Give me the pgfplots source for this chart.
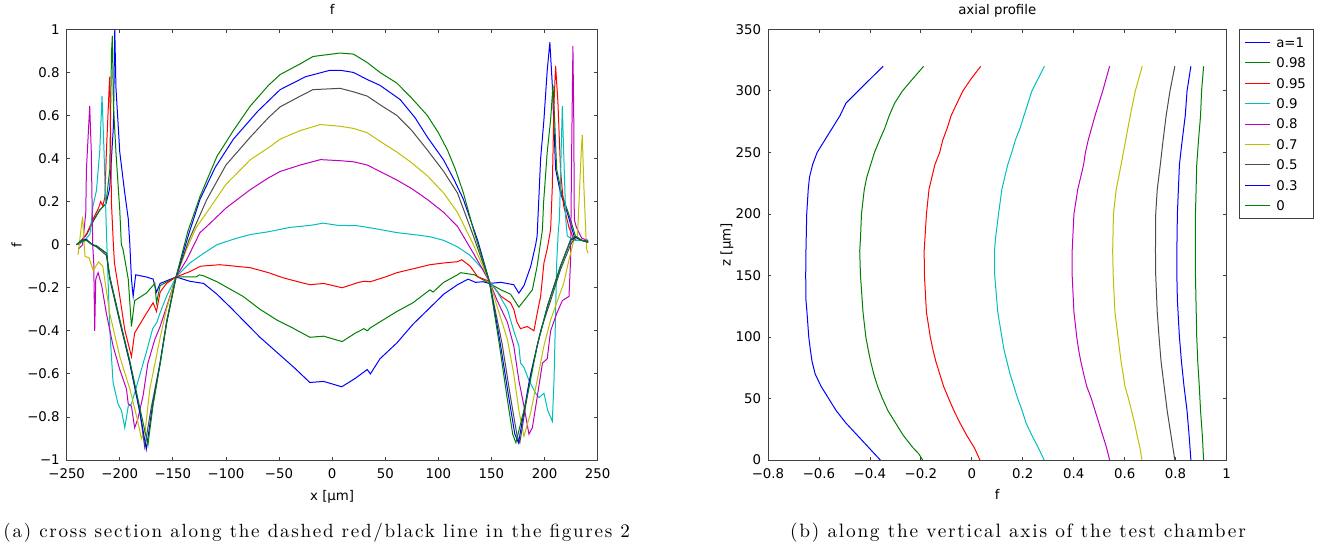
\documentclass[border=0pt]{standalone}
\usepackage{fontspec}
\usepackage{pgfplots}
\pgfplotsset{compat=1.18}
\newfontfamily\dv{DejaVu Sans}
\newfontfamily\capfont[LetterSpace=9]{lmroman10-regular.otf}
\newcommand\tf{\dv\fontsize{10}{12}\selectfont}
\definecolor{ocblue}{rgb}{0,0,1}
\definecolor{ocgreen}{rgb}{0,0.5,0}
\definecolor{ocred}{rgb}{1,0,0}
\definecolor{occyan}{rgb}{0,0.75,0.75}
\definecolor{ocmagenta}{rgb}{0.75,0,0.75}
\definecolor{ocyellow}{rgb}{0.75,0.75,0}
\definecolor{ocgray}{rgb}{0.3,0.3,0.3}
\pgfplotsset{
  every axis/.append style={
    scale only axis,
    axis line style={black!75, line width=0.6pt},
    tick style={black!75, line width=0.6pt},
    major tick length=2.5pt,
    tick align=inside,
    ticklabel style={font=\tf, text=black},
    xticklabel style={yshift=-2.7pt},
    yticklabel style={xshift=-1.7pt},
    label style={font=\tf},
    title style={font=\tf, at={(axis description cs:0.5,1)}, anchor=base, yshift=5.5pt},
    every axis plot/.append style={line width=0.75pt, mark=none},
  }
}
\begin{document}
\begin{tikzpicture}
\path[use as bounding box] (0,0) rectangle (990pt,-410.25pt);
% ---------------- left: cross section ----------------
\begin{axis}[
  at={(50pt,-22pt)}, anchor=north west,
  width=398.25pt, height=323pt,
  xmin=-250, xmax=250, ymin=-1, ymax=1,
  xtick={-250,-200,-150,-100,-50,0,50,100,150,200,250},
  xticklabels={−250,−200,−150,−100,−50,0,50,100,150,200,250},
  ytick={-1,-0.8,-0.6,-0.4,-0.2,0,0.2,0.4,0.6,0.8,1},
  yticklabels={−1,−0.8,−0.6,−0.4,−0.2,0,0.2,0.4,0.6,0.8,1},
  title={f},
  xlabel={x [μm]}, ylabel={f},
  xlabel style={at={(axis description cs:0.5,-0.0859)}, anchor=center},
  ylabel style={at={(axis description cs:-0.0942,0.5)}, anchor=center},
]
\addplot[color=ocblue] coordinates {(-239,0.0) (-231,0.05) (-225,0.11) (-219,0.16) (-213,0.19) (-209.5,0.26) (-206,0.55) (-204.7,1.0) (-203.6,0.73) (-200,0.43) (-195.3,0.24) (-192,0.12) (-190.5,0.0) (-189,-0.16) (-187.4,-0.24) (-185,-0.14) (-175,-0.15) (-168.6,-0.16) (-165.4,-0.22) (-162,-0.18) (-147,-0.15) (-134,-0.17) (-121,-0.18) (-108.5,-0.23) (-96,-0.29) (-84,-0.35) (-68,-0.43) (-52,-0.50) (-36,-0.57) (-21,-0.64) (-8,-0.635) (9,-0.66) (22,-0.62) (33,-0.58) (36,-0.60) (45,-0.53) (61,-0.456) (76,-0.37) (92,-0.293) (105,-0.23) (118,-0.186) (128,-0.16) (135,-0.175) (142,-0.172) (148,-0.18) (159,-0.175) (171,-0.186) (175.8,-0.225) (180.6,-0.19) (187,-0.10) (191.6,0.0) (193,0.04) (196.3,0.40) (199.4,0.58) (202.5,0.81) (205,0.94) (207.3,0.74) (210.4,0.35) (215,0.24) (221.4,0.148) (226,0.07) (229,0.02) (235,0.02) (241,0.015)};
\addplot[color=ocgreen] coordinates {(-239,0.0) (-231,0.05) (-225,0.11) (-219,0.16) (-213,0.19) (-209.4,0.35) (-207.8,0.89) (-207,0.97) (-206,0.65) (-203.6,0.43) (-200,0.16) (-198.5,0.0) (-197,-0.02) (-192,-0.16) (-189,-0.38) (-186,-0.26) (-175,-0.225) (-167,-0.18) (-165.4,-0.27) (-162,-0.19) (-147,-0.15) (-134,-0.149) (-128,-0.15) (-125,-0.14) (-121,-0.145) (-108.5,-0.172) (-84,-0.24) (-68,-0.30) (-52,-0.35) (-36,-0.39) (-21,-0.43) (-8,-0.425) (9.4,-0.45) (22,-0.41) (30,-0.39) (33,-0.40) (36,-0.386) (61,-0.31) (76,-0.27) (92,-0.21) (95,-0.22) (105,-0.175) (118,-0.14) (121,-0.13) (134,-0.14) (148,-0.18) (159,-0.21) (168,-0.23) (175.8,-0.29) (180.6,-0.26) (188.5,-0.21) (193,-0.10) (198,0.07) (199,0.19) (202.5,0.43) (205.7,0.58) (207.9,0.74) (209.5,0.58) (211.4,0.35) (216,0.24) (224.5,0.116) (229,0.04) (235,0.02) (241,0.015)};
\addplot[color=ocred] coordinates {(-239,0.0) (-231,0.05) (-225,0.12) (-220,0.17) (-218,0.2) (-216,0.18) (-214,0.22) (-212.6,0.43) (-210,0.73) (-209.4,0.78) (-208.6,0.5) (-207.8,0.19) (-206,0.0) (-205,-0.085) (-200,-0.24) (-195.3,-0.395) (-189,-0.52) (-186,-0.41) (-175,-0.32) (-168.6,-0.27) (-165.4,-0.31) (-162,-0.22) (-156,-0.18) (-147,-0.15) (-134,-0.125) (-128,-0.11) (-124,-0.10) (-105.7,-0.093) (-77,-0.107) (-60,-0.13) (-46,-0.154) (-30,-0.175) (-20.8,-0.186) (-8,-0.18) (9.4,-0.20) (25,-0.175) (30,-0.17) (36,-0.172) (50,-0.15) (61,-0.13) (78,-0.11) (92,-0.093) (105,-0.085) (118,-0.079) (122,-0.07) (130,-0.10) (137,-0.149) (148,-0.17) (159,-0.24) (168,-0.27) (171,-0.30) (174,-0.36) (177.4,-0.39) (183.7,-0.38) (190,-0.40) (193,-0.32) (196.3,-0.24) (199.4,-0.085) (202.5,-0.02) (205.7,0.07) (207.3,0.27) (208.9,0.66) (210.4,0.83) (212.6,0.66) (215,0.35) (218,0.18) (223,0.08) (228,0.02) (235,0.02) (241,0.015)};
\addplot[color=occyan] coordinates {(-239,0.0) (-233,0.02) (-228,0.05) (-225.2,0.18) (-222,0.25) (-218.9,0.43) (-216.7,0.69) (-214.8,0.43) (-212.5,0.05) (-209.4,-0.395) (-206.3,-0.64) (-201.6,-0.74) (-198.4,-0.77) (-195.3,-0.85) (-192,-0.75) (-189,-0.74) (-181.4,-0.61) (-175,-0.50) (-169,-0.39) (-165,-0.36) (-162.3,-0.32) (-156,-0.24) (-147,-0.15) (-134,-0.085) (-121,-0.04) (-108.5,0.0) (-90,0.03) (-77,0.047) (-60,0.06) (-40,0.08) (-20,0.09) (-8.5,0.10) (5,0.09) (23.6,0.088) (40,0.075) (61,0.056) (80,0.045) (92,0.037) (105,0.02) (118,-0.01) (130,-0.05) (142,-0.116) (148,-0.17) (155.6,-0.22) (165,-0.30) (171,-0.40) (175.8,-0.47) (177.4,-0.55) (180.6,-0.57) (185.3,-0.63) (191.6,-0.69) (194.7,-0.71) (199.4,-0.69) (203,-0.77) (207.3,-0.82) (208.9,-0.63) (210,-0.4) (211.4,-0.085) (213,0.07) (214,0.116) (216.7,0.643) (218,0.43) (220,0.116) (221.4,0.04) (228,0.02) (235,0.02) (241,0.01)};
\addplot[color=ocmagenta] coordinates {(-239,-0.02) (-235,0.0) (-232,0.15) (-231.4,0.35) (-228.3,0.643) (-226.8,0.43) (-225.5,0.0) (-224.5,-0.085) (-223.6,-0.40) (-222.6,-0.16) (-220.4,-0.13) (-217,-0.19) (-212.6,-0.32) (-206.3,-0.47) (-200,-0.58) (-193.7,-0.67) (-192,-0.74) (-189,-0.75) (-186,-0.85) (-183,-0.81) (-178,-0.70) (-173.5,-0.55) (-167,-0.44) (-162,-0.38) (-156,-0.29) (-147,-0.15) (-137,-0.07) (-124.5,0.056) (-118,0.085) (-100,0.17) (-77,0.256) (-60,0.31) (-49,0.34) (-30,0.37) (-11,0.395) (7.5,0.39) (20,0.385) (33,0.37) (45,0.34) (61,0.30) (75,0.26) (89.6,0.21) (105,0.15) (118,0.085) (133,-0.04) (148,-0.17) (155.4,-0.26) (165,-0.36) (171,-0.47) (175.8,-0.63) (180.6,-0.75) (185.3,-0.88) (188.5,-0.85) (193,-0.71) (198,-0.55) (202.5,-0.53) (205.7,-0.40) (211.4,-0.32) (216.7,-0.26) (223,-0.24) (224.5,-0.07) (225.5,0.43) (226.7,0.922) (227.5,0.58) (228,0.116) (230,0.08) (235,0.03) (241,0.02)};
\addplot[color=ocyellow] coordinates {(-239.3,-0.047) (-237,0.05) (-235,0.13) (-233.5,0.0) (-232.7,-0.055) (-229,-0.06) (-225,-0.12) (-220,-0.08) (-216,-0.10) (-209.4,-0.32) (-200,-0.52) (-190.5,-0.67) (-184,-0.80) (-179.6,-0.90) (-176,-0.86) (-171.7,-0.67) (-162.3,-0.44) (-156,-0.30) (-147,-0.15) (-137,-0.02) (-128,0.08) (-118,0.15) (-100,0.28) (-77,0.395) (-60,0.45) (-49,0.49) (-30,0.53) (-11,0.558) (7.5,0.55) (20,0.54) (33,0.52) (45,0.48) (61,0.43) (75,0.38) (89.6,0.32) (105,0.24) (118,0.15) (133,0.0) (148,-0.17) (155.5,-0.29) (165,-0.44) (171,-0.60) (175.8,-0.77) (180.6,-0.89) (186.9,-0.78) (193,-0.63) (199.4,-0.47) (205.7,-0.35) (211.4,-0.27) (218,-0.18) (223,-0.07) (227.7,0.023) (231,0.04) (234.5,0.43) (235.5,0.51) (237,0.27) (239.5,-0.02) (241,-0.04)};
\addplot[color=ocgray] coordinates {(-240.8,0.0) (-236,0.015) (-231.4,0.02) (-226,0.0) (-222,-0.01) (-212.5,-0.05) (-209.4,-0.16) (-200,-0.36) (-190.5,-0.55) (-181,-0.78) (-176.5,-0.94) (-170.5,-0.76) (-162.5,-0.56) (-156,-0.37) (-147,-0.15) (-135,0.02) (-118,0.21) (-100,0.37) (-77,0.50) (-60,0.59) (-49,0.64) (-30,0.69) (-18,0.72) (7.5,0.726) (20,0.71) (33,0.69) (45,0.65) (61,0.60) (75,0.53) (89.6,0.44) (105,0.34) (118,0.24) (133,0.04) (148,-0.17) (160,-0.46) (168,-0.71) (174.2,-0.89) (176.7,-0.92) (180.6,-0.80) (186.9,-0.60) (196.3,-0.40) (205.7,-0.26) (215,-0.116) (224.5,0.0) (229,0.035) (235,0.02) (241,0.01)};
\addplot[color=ocblue] coordinates {(-240.8,0.0) (-236,0.02) (-231.4,0.025) (-226,0.0) (-222,-0.005) (-212.5,-0.04) (-209.4,-0.15) (-200,-0.35) (-190.5,-0.55) (-181,-0.78) (-175,-0.95) (-169.5,-0.76) (-162,-0.55) (-156,-0.36) (-147,-0.15) (-135,0.05) (-124.5,0.21) (-110,0.36) (-93,0.49) (-70,0.62) (-49,0.72) (-25,0.78) (-2,0.81) (7.5,0.81) (20,0.80) (33,0.767) (45,0.74) (64,0.674) (78,0.59) (89.6,0.50) (104.7,0.395) (115,0.30) (123.6,0.21) (137,0.02) (148,-0.17) (158,-0.45) (166,-0.70) (172,-0.88) (175.5,-0.92) (179,-0.82) (185,-0.65) (194,-0.45) (203,-0.28) (215,-0.10) (224.5,0.02) (229,0.035) (235,0.02) (241,0.015)};
\addplot[color=ocgreen] coordinates {(-240.8,0.0) (-236,0.02) (-231.4,0.02) (-226,0.0) (-222,-0.005) (-212.5,-0.04) (-209.4,-0.15) (-200,-0.35) (-190.5,-0.54) (-181,-0.76) (-173.5,-0.93) (-168.5,-0.74) (-161.5,-0.54) (-155.5,-0.35) (-147,-0.15) (-136,0.06) (-124.5,0.223) (-108.5,0.41) (-93,0.53) (-77.4,0.642) (-60,0.74) (-49,0.79) (-30,0.84) (-18,0.874) (7.5,0.89) (20,0.885) (33,0.846) (45,0.80) (61,0.75) (75,0.68) (89.6,0.60) (100,0.52) (108.5,0.44) (116,0.35) (123.6,0.24) (133,0.07) (148,-0.17) (157,-0.45) (165,-0.72) (170,-0.88) (173,-0.92) (178,-0.82) (183.7,-0.705) (193,-0.47) (202.5,-0.29) (215,-0.10) (224.5,0.023) (229,0.04) (235,0.02) (241,0.015)};
\end{axis}
% ---------------- right: axial profile ----------------
\begin{axis}[
  at={(576pt,-22pt)}, anchor=north west,
  width=343.9pt, height=323pt,
  xmin=-0.8, xmax=1, ymin=0, ymax=350,
  xtick={-0.8,-0.6,-0.4,-0.2,0,0.2,0.4,0.6,0.8,1},
  xticklabels={−0.8,−0.6,−0.4,−0.2,0,0.2,0.4,0.6,0.8,1},
  ytick={0,50,100,150,200,250,300,350},
  yticklabels={0,50,100,150,200,250,300,350},
  title={axial profile},
  xlabel={f}, ylabel={z [μm]},
  xlabel style={at={(axis description cs:0.5,-0.08)}, anchor=center},
  ylabel style={at={(axis description cs:-0.0894,0.5)}, anchor=center},
  legend style={at={(axis description cs:1.0272,1)}, anchor=north west,
    draw=black!75, font=\tf, fill=white,
    inner xsep=3.75pt, inner ysep=2pt, row sep=0pt, column sep=3pt,
    nodes={inner xsep=1.5pt, inner ysep=0pt, text height=7.3pt, text depth=0pt, minimum height=15.3pt}},
  legend cell align=left,
  legend image code/.code={\draw[#1, line width=0.75pt] (0pt,0pt) -- (18.75pt,0pt);},
]
\addplot[color=ocblue] coordinates {(-0.359,0) (-0.382,5) (-0.404,10) (-0.449,20) (-0.494,30) (-0.532,40) (-0.562,50) (-0.592,60) (-0.615,70) (-0.627,80) (-0.634,90) (-0.640,100) (-0.647,120) (-0.651,130) (-0.652,150) (-0.651,170) (-0.648,200) (-0.642,220) (-0.637,230) (-0.625,240) (-0.607,250) (-0.577,260) (-0.547,270) (-0.517,280) (-0.494,290) (-0.446,300) (-0.397,310) (-0.348,320)};
\addlegendentry{a=1}
\addplot[color=ocgreen] coordinates {(-0.193,0) (-0.208,5) (-0.231,10) (-0.269,20) (-0.299,30) (-0.329,40) (-0.351,50) (-0.370,60) (-0.385,70) (-0.397,80) (-0.407,90) (-0.416,100) (-0.427,120) (-0.437,150) (-0.440,170) (-0.437,180) (-0.433,200) (-0.422,220) (-0.412,230) (-0.397,240) (-0.382,250) (-0.362,260) (-0.341,270) (-0.324,280) (-0.303,290) (-0.272,300) (-0.231,310) (-0.189,320)};
\addlegendentry{0.98}
\addplot[color=ocred] coordinates {(0.032,0) (0.010,10) (-0.020,20) (-0.046,30) (-0.070,40) (-0.091,50) (-0.111,60) (-0.126,70) (-0.141,80) (-0.153,90) (-0.163,100) (-0.178,120) (-0.186,150) (-0.187,170) (-0.184,180) (-0.178,200) (-0.168,220) (-0.145,240) (-0.126,250) (-0.114,260) (-0.096,270) (-0.081,280) (-0.058,290) (-0.035,300) (-0.002,310) (0.035,320)};
\addlegendentry{0.95}
\addplot[color=occyan] coordinates {(0.284,0) (0.261,10) (0.236,20) (0.213,30) (0.198,40) (0.180,50) (0.165,60) (0.150,70) (0.138,80) (0.126,90) (0.118,100) (0.102,120) (0.090,150) (0.089,170) (0.093,180) (0.105,200) (0.118,220) (0.141,240) (0.157,250) (0.171,260) (0.190,270) (0.205,280) (0.236,300) (0.285,320)};
\addlegendentry{0.9}
\addplot[color=ocmagenta] coordinates {(0.541,0) (0.529,10) (0.514,20) (0.499,30) (0.484,40) (0.469,50) (0.451,60) (0.439,70) (0.428,80) (0.419,90) (0.412,100) (0.401,120) (0.394,150) (0.394,170) (0.401,200) (0.416,220) (0.439,240) (0.446,250) (0.457,260) (0.484,280) (0.514,300) (0.541,320)};
\addlegendentry{0.8}
\addplot[color=ocyellow] coordinates {(0.668,0) (0.660,10) (0.649,20) (0.639,30) (0.627,40) (0.615,50) (0.601,60) (0.594,70) (0.586,80) (0.574,100) (0.562,120) (0.555,150) (0.553,170) (0.556,200) (0.567,220) (0.586,240) (0.604,260) (0.622,280) (0.642,300) (0.669,320)};
\addlegendentry{0.7}
\addplot[color=ocgray] coordinates {(0.797,0) (0.782,20) (0.767,40) (0.755,60) (0.743,80) (0.735,100) (0.728,120) (0.722,150) (0.721,170) (0.722,200) (0.728,220) (0.740,240) (0.751,260) (0.763,280) (0.778,300) (0.797,320)};
\addlegendentry{0.5}
\addplot[color=ocblue] coordinates {(0.860,0) (0.853,20) (0.845,40) (0.833,60) (0.823,80) (0.815,100) (0.807,130) (0.805,150) (0.805,170) (0.807,200) (0.815,240) (0.826,260) (0.838,280) (0.845,300) (0.860,320)};
\addlegendentry{0.3}
\addplot[color=ocgreen] coordinates {(0.910,0) (0.905,20) (0.898,40) (0.893,60) (0.887,80) (0.883,100) (0.878,150) (0.878,200) (0.883,240) (0.890,260) (0.898,280) (0.902,300) (0.910,320)};
\addlegendentry{0}
\end{axis}
\node[font=\capfont\fontsize{14.3}{17}\selectfont, anchor=base] at (237.5pt,-402.75pt) {(a) cross section along the dashed red/black line in the figures 2};
\node[font=\capfont\fontsize{14.5}{17}\selectfont, anchor=base] at (763.5pt,-402.75pt) {(b) along the vertical axis of the test chamber};
\end{tikzpicture}
\end{document}
